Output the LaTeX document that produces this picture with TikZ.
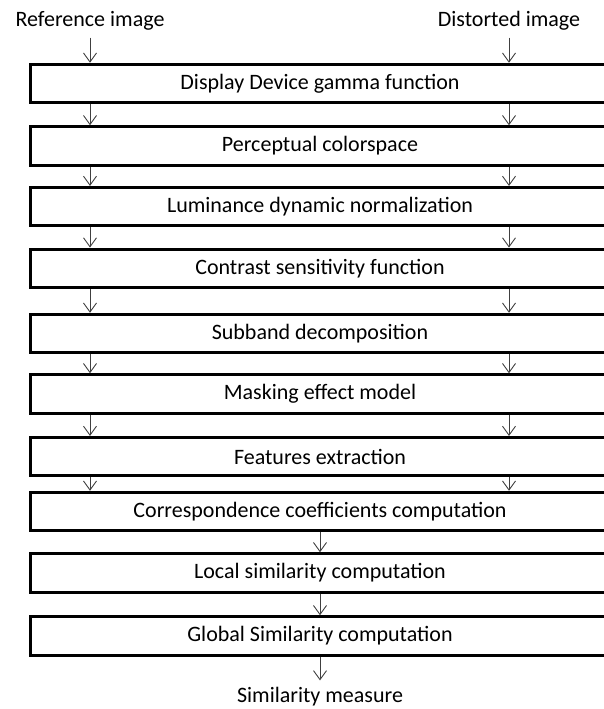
\documentclass[tikz,border=0pt]{standalone}
\usepackage{fontspec}
\setmainfont{Carlito}
\usetikzlibrary{arrows.meta}
\tikzset{
  stage/.style={draw, line width=3pt, minimum width=580pt, minimum height=38.5pt,
    inner sep=0pt, font=\fontsize{22}{26}\selectfont},
  lbl/.style={inner sep=1pt, font=\fontsize{22}{26}\selectfont},
  flow/.style={-{Straight Barb[length=9pt,width=13pt]}, black!75, line width=0.9pt}
}
\begin{document}
\begin{tikzpicture}[x=1pt,y=-1pt]
\useasboundingbox (0,0) rectangle (603,709);
\node[lbl] (ref) at (90,21) {Reference image};
\node[lbl] (dist) at (509,21) {Distorted image};
\foreach \y/\n/\t in {83.5/1/Display Device gamma function,
    146/2/Perceptual colorspace,
    206.7/3/Luminance dynamic normalization,
    268.3/4/Contrast sensitivity  function,
    333.5/5/Subband decomposition,
    394/6/Masking effect model,
    456.7/7/Features extraction,
    511.5/8/Correspondence coefficients computation,
    573/9/Local similarity  computation,
    636/10/Global Similarity computation}
  \node[stage] (b\n) at (320,\y) {\t};
\node[lbl] (out) at (320,697) {Similarity measure};
% two input streams
\draw[flow] ([yshift=-6pt]ref.south) -- (b1.north -| ref);
\draw[flow] ([yshift=-6pt]dist.south) -- (b1.north -| dist);
\foreach \i/\j in {1/2,2/3,3/4,4/5,5/6,6/7,7/8} {
  \draw[flow] (b\i.south -| ref) -- (b\j.north -| ref);
  \draw[flow] (b\i.south -| dist) -- (b\j.north -| dist);
}
% single stream
\draw[flow] (b8.south) -- (b9.north);
\draw[flow] (b9.south) -- (b10.north);
\draw[flow, shorten >=6pt] (b10.south) -- (out.north);
\end{tikzpicture}
\end{document}
